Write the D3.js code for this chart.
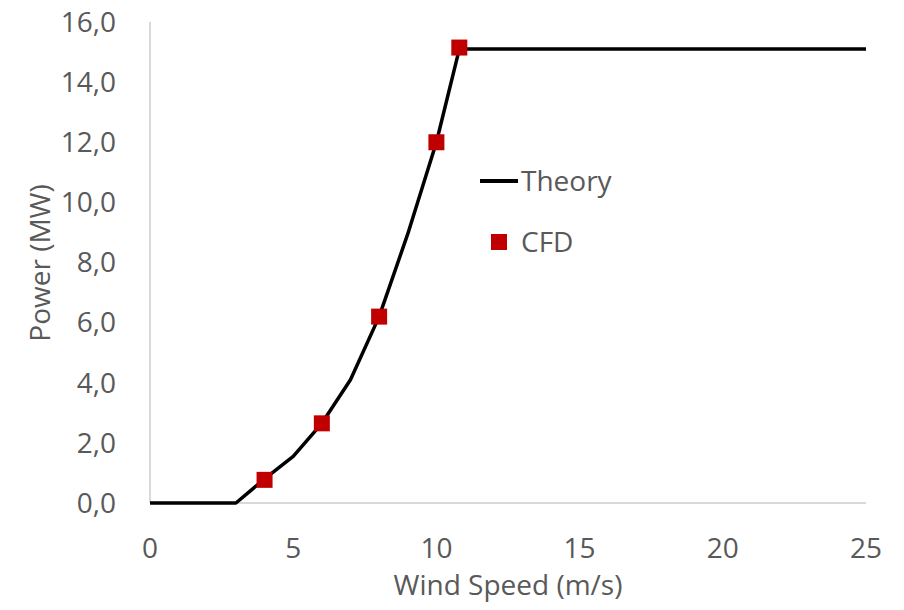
<!DOCTYPE html>
<html>
<head>
<meta charset="utf-8">
<script src="https://cdn.jsdelivr.net/npm/d3@7"></script>
<style>
  body { margin: 0; background: #fff; }
  svg { display: block; font-family: "Open Sans", sans-serif; }
</style>
</head>
<body>
<svg id="chart" width="904" height="610"></svg>
<script>
// theory power curve (MW) vs wind speed (m/s)
const theorySpeed = [0, 1, 2, 3, 4, 5, 6, 7, 8, 9, 10, 10.8, 11, 12, 13, 14, 15, 16, 17, 18, 19, 20, 21, 22, 23, 24, 25];
const theoryPower = [0, 0, 0, 0, 0.8, 1.55, 2.65, 4.1, 6.2, 8.95, 12.0, 15.1, 15.1, 15.1, 15.1, 15.1, 15.1, 15.1, 15.1, 15.1, 15.1, 15.1, 15.1, 15.1, 15.1, 15.1, 15.1];

// CFD points
const cfdSpeed = [4, 6, 8, 10, 10.8];
const cfdPower = [0.77, 2.65, 6.2, 12.0, 15.15];

const xTicks = [0, 5, 10, 15, 20, 25];
const yTicks = [0, 2, 4, 6, 8, 10, 12, 14, 16];

const svg = d3.select("#chart");
const textColor = "#595959";
const fontSize = 28;

const x = d3.scaleLinear().domain([0, 25]).range([150, 866]);
const y = d3.scaleLinear().domain([0, 16]).range([503, 22]);

// y-axis line
svg
  .append("line")
  .attr("x1", x(0))
  .attr("x2", x(0))
  .attr("y1", y(16))
  .attr("y2", y(0))
  .attr("stroke", "#d9d9d9")
  .attr("stroke-width", 2);

// x-axis line
svg
  .append("line")
  .attr("x1", x(0))
  .attr("x2", x(25))
  .attr("y1", y(0))
  .attr("y2", y(0))
  .attr("stroke", "#d9d9d9")
  .attr("stroke-width", 2);

// y tick labels
svg
  .append("g")
  .selectAll("text")
  .data(yTicks)
  .enter()
  .append("text")
  .attr("x", 116)
  .attr("y", (d) => y(d))
  .attr("dy", "0.35em")
  .attr("text-anchor", "end")
  .attr("fill", textColor)
  .style("font-size", fontSize + "px")
  .text((d) => d.toFixed(1).replace(".", ","));

// x tick labels
svg
  .append("g")
  .selectAll("text")
  .data(xTicks)
  .enter()
  .append("text")
  .attr("x", (d) => x(d))
  .attr("y", 548)
  .attr("dy", "0.35em")
  .attr("text-anchor", "middle")
  .attr("fill", textColor)
  .style("font-size", fontSize + "px")
  .text((d) => d);

// axis titles
svg
  .append("text")
  .attr("x", 508)
  .attr("y", 585)
  .attr("dy", "0.35em")
  .attr("text-anchor", "middle")
  .attr("fill", textColor)
  .style("font-size", fontSize + "px")
  .text("Wind Speed (m/s)");

svg
  .append("text")
  .attr("transform", "translate(40, 263) rotate(-90)")
  .attr("dy", "0.35em")
  .attr("text-anchor", "middle")
  .attr("fill", textColor)
  .style("font-size", fontSize + "px")
  .text("Power (MW)");

// theory line
const line = d3
  .line()
  .x((d, i) => x(theorySpeed[i]))
  .y((d) => y(d));

svg
  .append("path")
  .attr("fill", "none")
  .attr("stroke", "#000")
  .attr("stroke-width", 3.5)
  .attr("stroke-linejoin", "round")
  .attr("d", line(theoryPower));

// CFD markers
const ms = 16;
svg
  .append("g")
  .selectAll("rect")
  .data(cfdPower)
  .enter()
  .append("rect")
  .attr("x", (d, i) => x(cfdSpeed[i]) - ms / 2)
  .attr("y", (d) => y(d) - ms / 2)
  .attr("width", ms)
  .attr("height", ms)
  .attr("fill", "#c00000");

// legend
svg
  .append("line")
  .attr("x1", 480)
  .attr("x2", 518)
  .attr("y1", 181)
  .attr("y2", 181)
  .attr("stroke", "#000")
  .attr("stroke-width", 4);

svg
  .append("text")
  .attr("x", 521)
  .attr("y", 181)
  .attr("dy", "0.35em")
  .attr("fill", textColor)
  .style("font-size", fontSize + "px")
  .text("Theory");

svg
  .append("rect")
  .attr("x", 491)
  .attr("y", 234)
  .attr("width", ms)
  .attr("height", ms)
  .attr("fill", "#c00000");

svg
  .append("text")
  .attr("x", 521)
  .attr("y", 242)
  .attr("dy", "0.35em")
  .attr("fill", textColor)
  .style("font-size", fontSize + "px")
  .text("CFD");
</script>
</body>
</html>
